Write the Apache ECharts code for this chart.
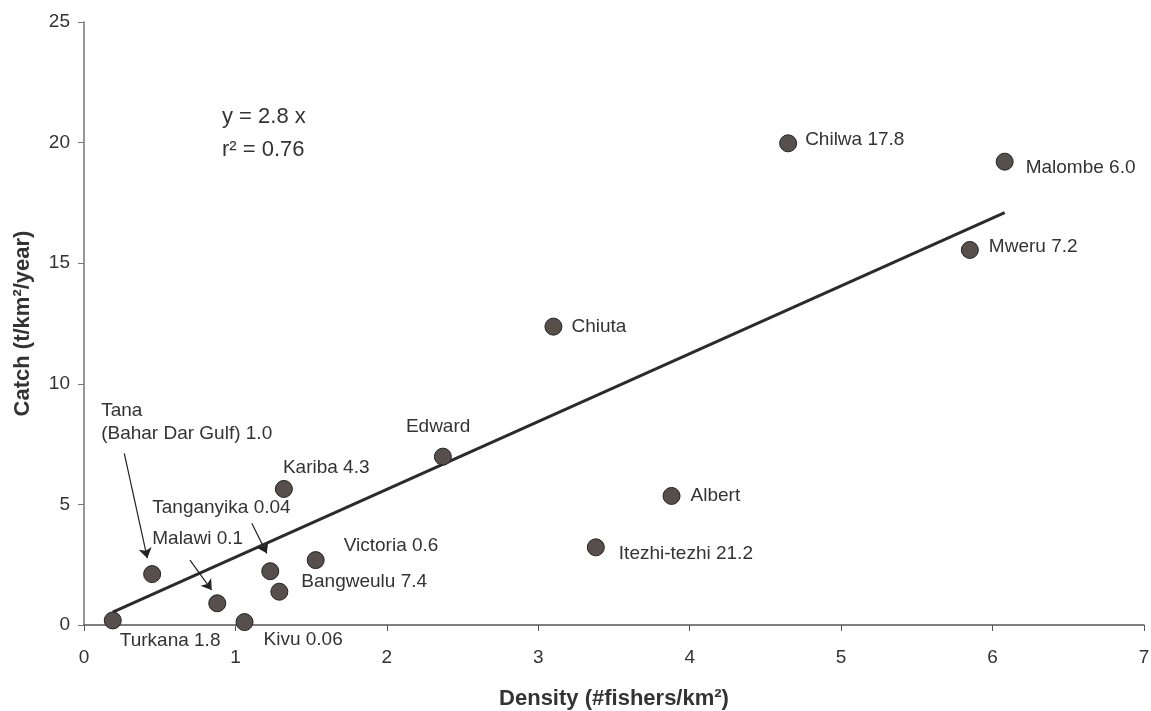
<!DOCTYPE html>
<html>
<head>
<meta charset="utf-8">
<script src="https://cdn.jsdelivr.net/npm/echarts@6/dist/echarts.min.js"></script>
<style>
html,body{margin:0;padding:0;background:#fff;}
#chart{width:1151px;height:711px;}
</style>
</head>
<body>
<div id="chart"></div>
<script>
// ---- Data ----
const lakeLabels = ["Turkana 1.8","Tana\n(Bahar Dar Gulf) 1.0","Malawi 0.1","Kivu 0.06","Tanganyika 0.04","Kariba 4.3","Bangweulu 7.4","Victoria 0.6","Edward","Chiuta","Itezhi-tezhi 21.2","Albert","Chilwa 17.8","Malombe 6.0","Mweru 7.2"];
const densityValues = [0.19,0.45,0.88,1.06,1.23,1.32,1.29,1.53,2.37,3.10,3.38,3.88,4.65,6.08,5.85];
const catchValues = [0.19,2.11,0.90,0.12,2.23,5.64,1.38,2.69,6.98,12.37,3.22,5.35,19.97,19.21,15.55];
const trendX = [0.19,6.08];
const trendY = [0.53,17.1];
// annotation arrows: [fromX, fromY, toX, toY] in data units
const arrowTana = [0.266,7.12,0.418,2.77];
const arrowMalawi = [0.70,2.69,0.843,1.45];
const arrowTanganyika = [1.108,4.22,1.207,2.97];
const xTicks = [0,1,2,3,4,5,6,7];
const yTicks = [0,5,10,15,20,25];

// ---- Label placement (styling) ----
const labelOffsets = {
  "Turkana 1.8":[-2,20],
  "Tana\n(Bahar Dar Gulf) 1.0":[-60,-152],
  "Malawi 0.1":[-74,-65],
  "Kivu 0.06":[10,18],
  "Tanganyika 0.04":[-127,-63],
  "Kariba 4.3":[-10,-21],
  "Bangweulu 7.4":[13,-10],
  "Victoria 0.6":[19,-14],
  "Edward":[-46,-30],
  "Chiuta":[9,0],
  "Itezhi-tezhi 21.2":[14,6],
  "Albert":[10,0],
  "Chilwa 17.8":[8,-4],
  "Malombe 6.0":[12,6],
  "Mweru 7.2":[10,-3]
};

const FONT = '"Liberation Sans", Arial, Helvetica, sans-serif';
const TXT = '#333';

const scatterData = lakeLabels.map((n,i)=>({
  name:n,
  value:[densityValues[i],catchValues[i]]
}));
const trendData = trendX.map((x,i)=>[x,trendY[i]]);
const arrows = [arrowTana,arrowMalawi,arrowTanganyika].map(a=>({coords:[[a[0],a[1]],[a[2],a[3]]]}));

const chart = echarts.init(document.getElementById('chart'),null,{renderer:'canvas'});
chart.setOption({
  animation:false,
  backgroundColor:'#fff',
  textStyle:{fontFamily:FONT},
  grid:{left:84,right:7,top:22,bottom:86,containLabel:false,outerBoundsMode:'none'},
  xAxis:{
    type:'value',min:xTicks[0],max:xTicks[xTicks.length-1],interval:1,
    name:'Density (#fishers/km²)',nameLocation:'middle',nameGap:63,
    nameTextStyle:{fontFamily:FONT,fontSize:22,fontWeight:'bold',color:TXT},
    axisLine:{show:true,lineStyle:{color:'#555',width:1.5}},
    axisTick:{show:true,inside:false,length:6,lineStyle:{color:'#555'}},
    axisLabel:{margin:23,fontFamily:FONT,fontSize:19,color:TXT,showMaxLabel:true,showMinLabel:true},
    splitLine:{show:false}
  },
  yAxis:{
    type:'value',min:yTicks[0],max:yTicks[yTicks.length-1],interval:5,
    name:'Catch (t/km²/year)',nameLocation:'middle',nameGap:50,nameRotate:90,
    nameTextStyle:{fontFamily:FONT,fontSize:22,fontWeight:'bold',color:TXT},
    axisLine:{show:true,lineStyle:{color:'#777',width:1.5}},
    axisTick:{show:true,inside:false,length:6,lineStyle:{color:'#777'}},
    axisLabel:{margin:14,fontFamily:FONT,fontSize:19,color:TXT},
    splitLine:{show:false}
  },
  graphic:[
    {type:'text',left:222,top:106,style:{text:'y = 2.8 x',font:'22px '+FONT,fill:TXT}},
    {type:'text',left:222,top:139,style:{text:'r² = 0.76',font:'22px '+FONT,fill:TXT}}
  ],
  series:[
    {
      type:'line',data:trendData,symbol:'none',z:2,
      lineStyle:{color:'#2b2b2b',width:3},silent:true
    },
    {
      type:'lines',coordinateSystem:'cartesian2d',data:arrows,z:3,
      symbol:['none','arrow'],symbolSize:[0,10],
      lineStyle:{color:'#222',width:1.2,opacity:1},silent:true
    },
    {
      type:'scatter',data:scatterData,z:4,
      symbol:'circle',symbolSize:17,
      itemStyle:{color:'#574f4c',borderColor:'#222',borderWidth:1,opacity:1},
      label:{
        show:true,position:'right',distance:0,align:'left',verticalAlign:'middle',
        formatter:'{b}',fontFamily:FONT,fontSize:19,color:TXT,lineHeight:23
      },
      labelLayout:function(p){
        const o = labelOffsets[lakeLabels[p.dataIndex]] || [0,0];
        return {dx:o[0],dy:o[1],hideOverlap:false};
      }
    }
  ]
});
</script>
</body>
</html>
